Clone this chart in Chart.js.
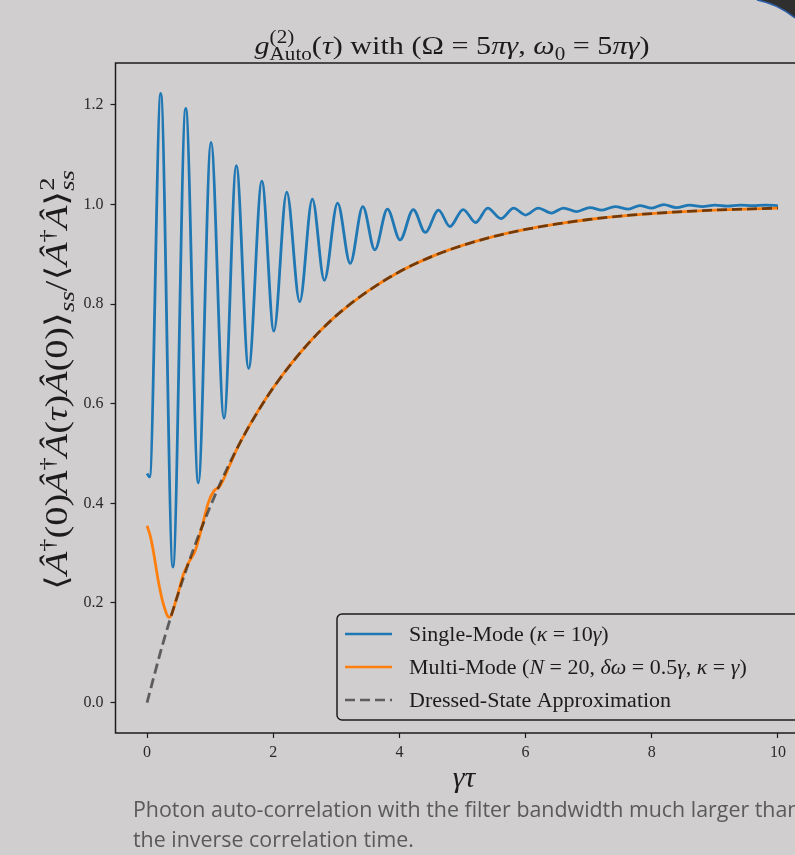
<!DOCTYPE html>
<html>
<head>
<meta charset="utf-8">
<script src="https://cdn.jsdelivr.net/npm/chart.js@4/dist/chart.umd.min.js"></script>
<style>
  html, body { margin: 0; padding: 0; }
  body { width: 795px; height: 855px; overflow: hidden; background: #d0cecf; position: relative; }
  #chart { position: absolute; left: 0; top: 0; }
  #caption {
    position: absolute; left: 133px; top: 794px; white-space: nowrap;
    font: 21.4px "Open Sans", sans-serif; color: #5a5a5a; line-height: 30px;
  }
  #corner { position: absolute; right: 0; top: 0; }
</style>
</head>
<body>
<canvas id="chart" width="830" height="800"></canvas>
<svg id="corner" width="40" height="20" viewBox="755 0 40 20">
  <path d="M757 0 Q778 4 795 18 L795 0 Z" fill="#2f2f30"/>
  <path d="M757 0 Q778 4 795 18" fill="none" stroke="#2c5fa8" stroke-width="1.5"/>
</svg>
<div id="caption">Photon auto-correlation with the filter bandwidth much larger than<br>the inverse correlation time.</div>
<script>
// Values (x = γτ).
const xTicks = [0, 2, 4, 6, 8, 10];
const yTicks = [0.0, 0.2, 0.4, 0.6, 0.8, 1.0, 1.2];

// Single-Mode (κ = 10γ): start, then successive peaks and troughs.
const singleX = [0, 0.04, 0.217, 0.41, 0.613, 0.813, 1.014, 1.22, 1.415, 1.61,
  1.82, 2.01, 2.214, 2.42, 2.62, 2.81, 3.02, 3.22, 3.42, 3.61, 3.81, 4.01, 4.22,
  4.41, 4.62, 4.80, 5.01, 5.21, 5.40, 5.61, 5.81, 6.0, 6.2, 6.41, 6.6, 6.81,
  7.02, 7.21, 7.42, 7.63, 7.81, 8.0, 8.19, 8.39, 8.6, 8.8, 9.0, 9.2, 9.4, 9.6,
  9.8, 10];
const singleY = [0.460, 0.453, 1.223, 0.272, 1.193, 0.441, 1.125, 0.571, 1.078,
  0.671, 1.047, 0.746, 1.025, 0.805, 1.011, 0.848, 1.003, 0.882, 0.996, 0.909,
  0.991, 0.929, 0.990, 0.944, 0.989, 0.956, 0.990, 0.964, 0.993, 0.972, 0.993,
  0.979, 0.993, 0.983, 0.993, 0.986, 0.994, 0.989, 0.996, 0.991, 0.998, 0.993,
  1.000, 0.994, 0.999, 0.996, 0.999, 0.997, 0.999, 0.998, 0.999, 0.998];

// Multi-Mode (N = 20, δω = 0.5γ, κ = γ)
const multiX = [0, 0.05, 0.1, 0.18, 0.26, 0.353, 0.47, 0.575, 0.655, 0.76, 0.867,
  0.97, 1.06, 1.157, 1.315, 1.42, 1.6, 1.8, 2.0, 2.25, 2.5, 2.75, 3.0, 3.5, 4.0,
  4.5, 5.0, 5.5, 6.0, 6.5, 7.0, 7.5, 8.0, 8.5, 9.0, 9.5, 10];
const multiY = [0.355, 0.335, 0.304, 0.243, 0.197, 0.171, 0.210, 0.257, 0.280,
  0.304, 0.351, 0.401, 0.425, 0.435, 0.478, 0.508, 0.551, 0.594, 0.632, 0.675,
  0.713, 0.747, 0.777, 0.826, 0.865, 0.895, 0.918, 0.936, 0.950, 0.961, 0.970,
  0.977, 0.982, 0.986, 0.989, 0.991, 0.993];

// Dressed-State Approximation
const dressedX = [0, 0.25, 0.5, 0.75, 1.0, 1.25, 1.5, 1.75, 2.0, 2.5, 3.0, 3.5,
  4.0, 4.5, 5.0, 5.5, 6.0, 6.5, 7.0, 7.5, 8.0, 8.5, 9.0, 9.5, 10];
const dressedY = [0, 0.118, 0.221, 0.313, 0.393, 0.465, 0.528, 0.583, 0.632,
  0.713, 0.777, 0.826, 0.865, 0.895, 0.918, 0.936, 0.950, 0.961, 0.970, 0.977,
  0.982, 0.986, 0.989, 0.991, 0.993];

const BG = "#d0cecf";
const INK = "#1c1c1c";
const SERIF = '"Liberation Serif", "DejaVu Serif", serif';

// Rich text runs: [text, flags]; flags: i = italic, ^ = superscript,
// _ = subscript, | = do not advance (stack with the next piece).
const titleRun = [["g", "i"], ["(2)", "^|"], ["Auto", "_"], ["(", ""], ["τ", "i"],
  [") with (Ω = 5", ""], ["π", "i"], ["γ", "i"], [", ", ""], ["ω", "i"], ["0", "_"],
  [" = 5", ""], ["π", "i"], ["γ", "i"], [")", ""]];
const yLabelRun = [["⟨", ""], ["Â", "i"], ["†", "^"], ["(0)", ""], ["Â", "i"],
  ["†", "^"], ["Â", "i"], ["(", ""], ["τ", "i"], [")", ""], ["Â", "i"], ["(0)", ""],
  ["⟩", ""], ["ss", "_i"], ["/", ""], ["⟨", ""], ["Â", "i"], ["†", "^"], ["Â", "i"],
  ["⟩", ""], ["2", "^|"], ["ss", "_i"]];
const xLabelRun = [["γτ", "i"]];
const legendRuns = [
  [["Single-Mode (", ""], ["κ", "i"], [" = 10", ""], ["γ", "i"], [")", ""]],
  [["Multi-Mode (", ""], ["N", "i"], [" = 20, ", ""], ["δω", "i"], [" = 0.5", ""],
    ["γ", "i"], [", ", ""], ["κ", "i"], [" = ", ""], ["γ", "i"], [")", ""]],
  [["Dressed-State Approximation", ""]],
];

function fontOf(size, italic) {
  return (italic ? "italic " : "") + size + "px " + SERIF;
}

// Draws (or only measures, when draw is false) a run; returns its width.
function drawRun(ctx, run, x, y, size, draw) {
  let cx = x;
  let held = 0;
  run.forEach(([t, f]) => {
    const small = f.includes("^") || f.includes("_");
    ctx.font = fontOf(small ? size * 0.7 : size, f.includes("i"));
    const dy = f.includes("^") ? -size * 0.42 : f.includes("_") ? size * 0.24 : 0;
    const w = ctx.measureText(t).width;
    if (draw) ctx.fillText(t, cx, y + dy);
    if (f.includes("|")) {
      held = Math.max(held, w);
    } else {
      cx += Math.max(w, held);
      held = 0;
    }
  });
  return cx - x;
}

// Centered run, widened to the reference's Computer Modern width when asked.
function drawCentered(ctx, run, cx, y, size, targetW) {
  const w = drawRun(ctx, run, 0, 0, size, false);
  const sx = targetW ? targetW / w : 1;
  ctx.save();
  ctx.translate(cx - (w * sx) / 2, y);
  ctx.scale(sx, 1);
  drawRun(ctx, run, 0, 0, size, true);
  ctx.restore();
}

const decorations = {
  id: "decorations",
  afterDraw(chart) {
    const ctx = chart.ctx;
    const a = chart.chartArea;
    ctx.save();
    ctx.textBaseline = "alphabetic";
    ctx.textAlign = "left";
    ctx.fillStyle = INK;

    // axes frame
    ctx.strokeStyle = INK;
    ctx.lineWidth = 1.5;
    ctx.strokeRect(a.left, a.top, a.right - a.left, a.bottom - a.top);

    // title and axis labels
    drawCentered(ctx, titleRun, 452, 54, 26, 395);
    drawCentered(ctx, xLabelRun, 464, 787, 30);
    ctx.save();
    ctx.translate(67, 380);
    ctx.rotate(-Math.PI / 2);
    drawCentered(ctx, yLabelRun, 0, 0, 31, 420);
    ctx.restore();

    // legend box
    const lx = 337, ly = 614, lh = 106;
    ctx.beginPath();
    ctx.roundRect(lx, ly, 520, lh, 5);
    ctx.fillStyle = BG;
    ctx.fill();
    ctx.lineWidth = 1.5;
    ctx.strokeStyle = INK;
    ctx.stroke();

    const styles = [
      { color: "#1f77b4", dash: [] },
      { color: "#ff7f0e", dash: [] },
      { color: "rgba(0,0,0,0.55)", dash: [10, 5] },
    ];
    legendRuns.forEach((run, i) => {
      const y = 634 + i * 33;
      ctx.beginPath();
      ctx.setLineDash(styles[i].dash);
      ctx.strokeStyle = styles[i].color;
      ctx.lineWidth = 2.6;
      ctx.moveTo(345, y);
      ctx.lineTo(392, y);
      ctx.stroke();
      ctx.setLineDash([]);
      ctx.fillStyle = INK;
      ctx.save();
      ctx.translate(409, y + 7);
      ctx.scale(1.1, 1);
      drawRun(ctx, run, 0, 0, 20, true);
      ctx.restore();
    });
    ctx.restore();
  },
};

function toPoints(xs, ys) {
  return xs.map((x, i) => ({ x, y: ys[i] }));
}

new Chart(document.getElementById("chart"), {
  type: "line",
  data: {
    datasets: [
      {
        label: "Single-Mode",
        data: toPoints(singleX, singleY),
        borderColor: "#1f77b4",
        borderWidth: 2.8,
        cubicInterpolationMode: "monotone",
        order: 3,
      },
      {
        label: "Multi-Mode",
        data: toPoints(multiX, multiY),
        borderColor: "#ff7f0e",
        borderWidth: 2.8,
        cubicInterpolationMode: "monotone",
        order: 2,
      },
      {
        label: "Dressed-State Approximation",
        data: toPoints(dressedX, dressedY),
        borderColor: "rgba(0,0,0,0.55)",
        borderWidth: 2.8,
        borderDash: [10, 5],
        cubicInterpolationMode: "monotone",
        order: 1,
      },
    ],
  },
  options: {
    responsive: false,
    animation: false,
    devicePixelRatio: 1,
    elements: { point: { radius: 0 } },
    layout: { padding: { left: 0, top: 63, right: 20.5, bottom: 0 } },
    plugins: { legend: { display: false }, tooltip: { enabled: false } },
    scales: {
      x: {
        type: "linear",
        min: -0.5,
        max: 10.5,
        afterBuildTicks: (s) => { s.ticks = xTicks.map((v) => ({ value: v })); },
        afterFit: (s) => { s.height = 67; },
        border: { display: false },
        grid: { drawOnChartArea: false, drawTicks: true, tickLength: 5, tickColor: INK, tickWidth: 1.2 },
        ticks: { color: "#2a2a2a", padding: 5, font: { family: SERIF, size: 16 }, callback: (v) => String(v) },
      },
      y: {
        type: "linear",
        min: -0.0612,
        max: 1.2843,
        afterBuildTicks: (s) => { s.ticks = yTicks.map((v) => ({ value: v })); },
        afterFit: (s) => { s.width = 115.5; },
        border: { display: false },
        grid: { drawOnChartArea: false, drawTicks: true, tickLength: 5, tickColor: INK, tickWidth: 1.2 },
        ticks: { color: "#2a2a2a", padding: 7, font: { family: SERIF, size: 16 }, callback: (v) => v.toFixed(1) },
      },
    },
  },
  plugins: [decorations],
});
</script>
</body>
</html>
